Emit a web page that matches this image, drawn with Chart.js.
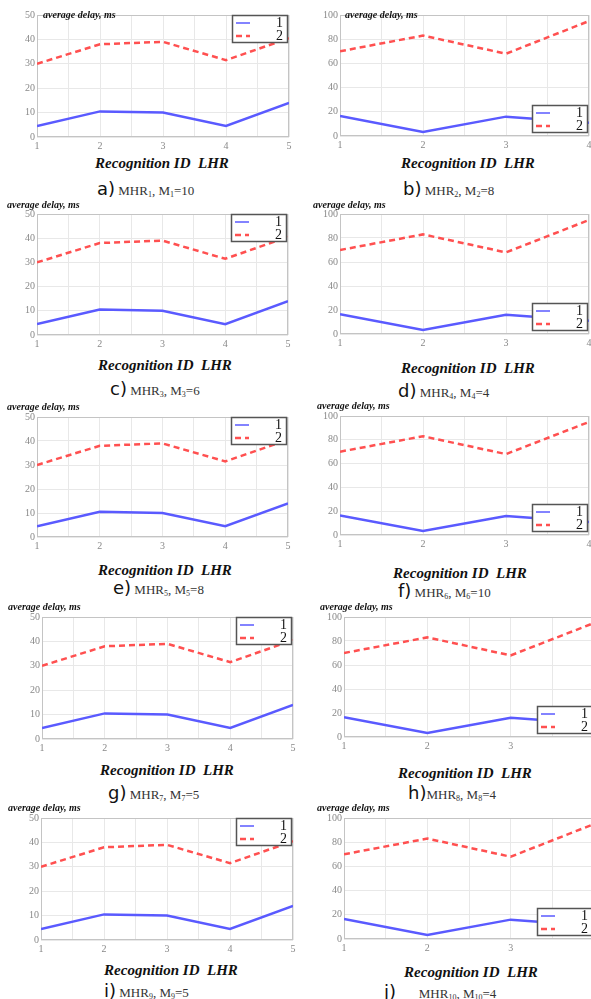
<!DOCTYPE html>
<html>
<head>
<meta charset="utf-8">
<script src="https://cdn.jsdelivr.net/npm/chart.js@4.4.1/dist/chart.umd.min.js"></script>
<style>
html, body { margin: 0; padding: 0; background: #fff; }
body { width: 591px; height: 999px; position: relative; overflow: hidden; }
canvas { position: absolute; }
.ylab { position: absolute; font: italic bold 10px "Liberation Serif", serif; color: #111; white-space: nowrap; line-height: 1; transform: translateY(-50%); }
.xlab { position: absolute; font: italic bold 15px "Liberation Serif", serif; color: #111; white-space: pre; line-height: 1; transform: translate(-50%, -50%); }
.cap { position: absolute; white-space: nowrap; line-height: 1; transform: translateY(-50%); color: #333; font: 13px "Liberation Serif", serif; }
.cap .lt { font: 18px "DejaVu Sans", sans-serif; color: #111; }
.cap sub { font-size: 8px; vertical-align: -2px; }
</style>
</head>
<body>
<script>
// données
var idsLeft = [1, 2, 3, 4, 5];
var leftSeries1 = [4.5, 10.5, 10, 4.5, 14];
var leftSeries2 = [30, 38, 39, 31.5, 40.5];
var idsRight = [1, 2, 3, 4];
var rightSeries1 = [16.5, 3.3, 16, 11];
var rightSeries2 = [70, 83, 68, 95];
var seriesLabels = ['1', '2'];
var letters = ['a', 'b', 'c', 'd', 'e', 'f', 'g', 'h', 'i', 'j'];
var mValues = [10, 8, 6, 4, 8, 10, 5, 4, 5, 4];
var yLabel = 'average delay, ms';
var xLabel = 'Recognition ID  LHR';

// mise en page des 10 vignettes : zone de tracé [gauche, haut, droite, bas]
var panels = [
  { side: 'L', box: [37, 15, 289, 137],  legend: 'top',    ylab: [43, 15],  xlab: [162, 163], cap: [97, 188] },
  { side: 'R', box: [340, 15, 589, 136], legend: 'bottom', ylab: [345, 15], xlab: [468, 163], cap: [403, 188] },
  { side: 'L', box: [37, 214, 288, 335], legend: 'top',    ylab: [7, 205],  xlab: [165, 365], cap: [110, 388] },
  { side: 'R', box: [340, 214, 589, 334], legend: 'bottom', ylab: [313, 205], xlab: [468, 368], cap: [398, 390] },
  { side: 'L', box: [37, 417, 288, 537], legend: 'top',    ylab: [7, 407],  xlab: [165, 570], cap: [113, 587] },
  { side: 'R', box: [340, 416, 589, 535], legend: 'bottom', ylab: [317, 406], xlab: [460, 573], cap: [398, 590] },
  { side: 'L', box: [42, 617, 293, 739], legend: 'top',    ylab: [8, 607],  xlab: [167, 770], cap: [108, 792] },
  { side: 'R', box: [344, 617, 594, 737], legend: 'bottom', ylab: [320, 607], xlab: [465, 773], cap: [408, 792] },
  { side: 'L', box: [41, 818, 293, 940], legend: 'top',    ylab: [8, 808],  xlab: [171, 970], cap: [104, 990] },
  { side: 'R', box: [344, 818, 594, 939], legend: 'bottom', ylab: [317, 808], xlab: [471, 972], cap: [384, 991] }
];

var Y_W = 26, X_H = 16, PAD_T = 8, PAD_R = 8;

// cadre autour de la zone de tracé
var framePlugin = {
  id: 'frame',
  beforeDatasetsDraw: function (chart) {
    var a = chart.chartArea, ctx = chart.ctx;
    ctx.save();
    ctx.strokeStyle = '#c4c4c4';
    ctx.lineWidth = 1;
    ctx.strokeRect(a.left + 0.5, a.top + 0.5, a.right - a.left - 1, a.bottom - a.top - 1);
    ctx.restore();
  }
};

// légende dessinée à l'intérieur du tracé
var insideLegend = {
  id: 'insideLegend',
  afterDatasetsDraw: function (chart, args, opts) {
    var a = chart.chartArea, ctx = chart.ctx;
    var w = 56, h = 28;
    var x = a.right - w - 1;
    var y = opts.position === 'bottom' ? a.bottom - h - 3 : a.top;
    ctx.save();
    ctx.fillStyle = '#fff';
    ctx.fillRect(x, y, w, h);
    ctx.strokeStyle = '#555';
    ctx.lineWidth = 1.5;
    ctx.strokeRect(x + 0.5, y + 0.5, w - 1, h - 1);
    chart.data.datasets.forEach(function (ds, i) {
      var ry = y + 8 + i * 13;
      ctx.strokeStyle = ds.borderColor;
      ctx.lineWidth = i ? 2.5 : 1.5;
      ctx.setLineDash(ds.borderDash || []);
      ctx.beginPath();
      ctx.moveTo(x + 4, ry);
      ctx.lineTo(x + 18, ry);
      ctx.stroke();
      ctx.setLineDash([]);
      ctx.fillStyle = '#111';
      ctx.font = '14px "Liberation Serif", serif';
      ctx.textAlign = 'right';
      ctx.textBaseline = 'middle';
      ctx.fillText(ds.label, x + w - 5, ry);
    });
    ctx.restore();
  }
};

function points(xs, ys) {
  return xs.map(function (v, i) { return { x: v, y: ys[i] }; });
}

function addDiv(cls, x, y, html) {
  var d = document.createElement('div');
  d.className = cls;
  d.style.left = x + 'px';
  d.style.top = y + 'px';
  d.innerHTML = html;
  document.body.appendChild(d);
}

panels.forEach(function (p, k) {
  var L = p.box[0], T = p.box[1], R = p.box[2], B = p.box[3];
  var left = p.side === 'L';
  var cv = document.createElement('canvas');
  cv.width = (R - L) + Y_W + PAD_R;
  cv.height = (B - T) + PAD_T + X_H;
  cv.style.left = (L - Y_W) + 'px';
  cv.style.top = (T - PAD_T) + 'px';
  document.body.appendChild(cv);

  var xs = left ? idsLeft : idsRight;
  new Chart(cv, {
    type: 'line',
    data: {
      datasets: [{
        label: seriesLabels[0],
        data: points(xs, left ? leftSeries1 : rightSeries1),
        borderColor: 'rgb(90, 90, 255)',
        borderWidth: 2.5,
        pointRadius: 0,
        tension: 0
      }, {
        label: seriesLabels[1],
        data: points(xs, left ? leftSeries2 : rightSeries2),
        borderColor: 'rgb(255, 80, 80)',
        borderDash: [6, 4],
        borderWidth: 2.5,
        pointRadius: 0,
        tension: 0
      }]
    },
    options: {
      responsive: false,
      animation: false,
      layout: { padding: { top: PAD_T, right: PAD_R, left: 0, bottom: 0 } },
      plugins: {
        legend: { display: false },
        tooltip: { enabled: false },
        insideLegend: { position: p.legend }
      },
      scales: {
        x: {
          type: 'linear',
          min: 1,
          max: left ? 5 : 4,
          afterFit: function (s) { s.height = X_H; },
          grid: { color: '#e8e8e8', drawTicks: false },
          border: { display: false },
          ticks: {
            stepSize: 0.5,
            autoSkip: false,
            maxRotation: 0,
            padding: 3,
            color: '#888',
            font: { family: '"Liberation Serif", serif', size: 10 },
            callback: function (v) { return Number.isInteger(v) ? v : ''; }
          }
        },
        y: {
          min: 0,
          max: left ? 50 : 100,
          afterFit: function (s) { s.width = Y_W; },
          grid: { color: '#e8e8e8', drawTicks: false },
          border: { display: false },
          ticks: {
            stepSize: left ? 10 : 20,
            padding: 2,
            color: '#888',
            font: { family: '"Liberation Serif", serif', size: 10 }
          }
        }
      }
    },
    plugins: [framePlugin, insideLegend]
  });

  addDiv('ylab', p.ylab[0], p.ylab[1], yLabel);
  addDiv('xlab', p.xlab[0], p.xlab[1], xLabel);

  var n = k + 1;
  var sep = letters[k] === 'h' ? '' : (letters[k] === 'j' ? '&nbsp;&nbsp;&nbsp;&nbsp;&nbsp;&nbsp;&nbsp;' : '&nbsp;');
  addDiv('cap', p.cap[0], p.cap[1],
    '<span class="lt">' + letters[k] + ')</span>' + sep +
    'MHR<sub>' + n + '</sub>, M<sub>' + n + '</sub>=' + mValues[k]);
});
</script>
</body>
</html>
